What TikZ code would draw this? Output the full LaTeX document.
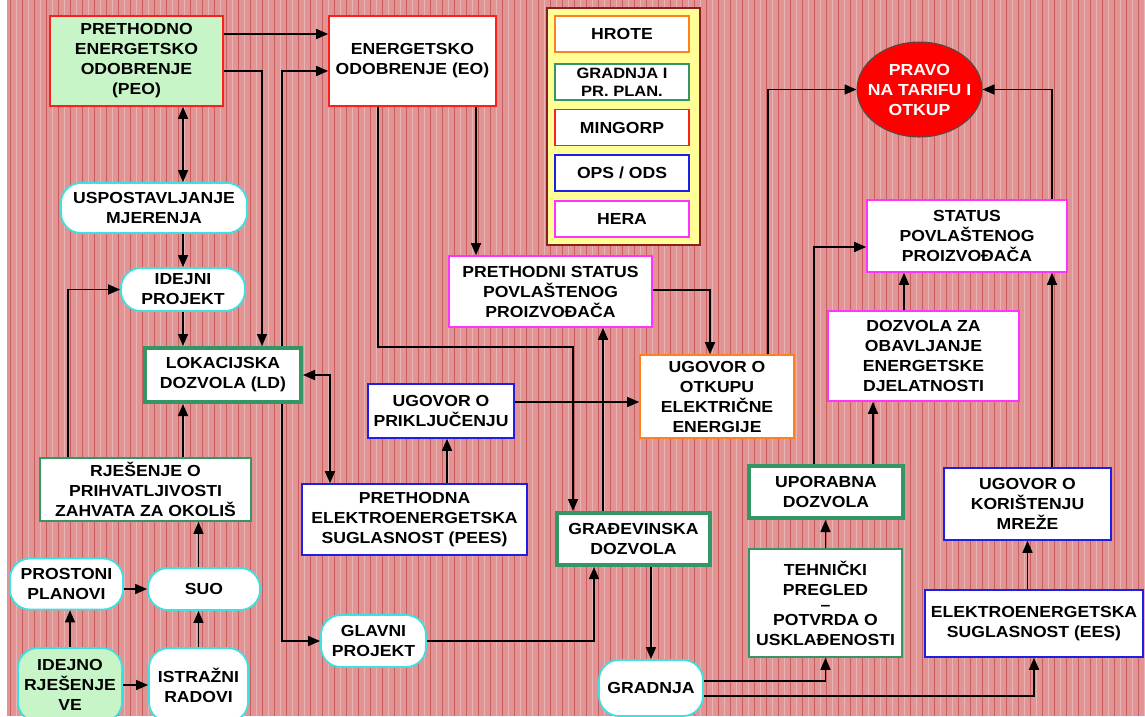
\documentclass[tikz,border=0pt]{standalone}
\usepackage{fontspec}
\setmainfont{Liberation Sans}[FakeStretch=1.1]
\usepackage{tikz}
\usetikzlibrary{shapes.geometric,arrows.meta}
\definecolor{bgpink}{RGB}{226,148,148}
\definecolor{stripedark}{RGB}{200,95,95}
\definecolor{edgered}{RGB}{255,30,30}
\definecolor{edgeblue}{RGB}{30,30,230}
\definecolor{edgemagenta}{RGB}{255,50,255}
\definecolor{edgeorange}{RGB}{255,128,32}
\definecolor{permitgreen}{RGB}{51,150,100}
\definecolor{stagecyan}{RGB}{60,225,225}
\definecolor{peofill}{RGB}{200,245,200}
\definecolor{legendyellow}{RGB}{255,255,150}
\definecolor{legendframe}{RGB}{140,30,30}
\newcommand{\diagfont}{\fontsize{16}{20}\selectfont\bfseries}
\newcommand{\keyfont}{\fontsize{15}{18}\selectfont\bfseries}
\tikzset
{
    boxsize/.style 2 args = {minimum width=#1pt, minimum height=#2pt},
    docbox/.style    = {rectangle, draw=#1, line width=1.6pt, fill=white, align=center, inner sep=1pt},
    permitbox/.style = {rectangle, draw=permitgreen, line width=4pt, fill=white, align=center, inner sep=1pt},
    stagenode/.style = {rectangle, rounded corners=20pt, draw=stagecyan, line width=1.8pt, fill=white, align=center, inner sep=1pt},
    keybox/.style    = {rectangle, draw=#1, line width=1.6pt, fill=white, align=center, minimum width=134pt, minimum height=36pt, inner sep=0pt}
}

\begin{document}
\begin{tikzpicture}[x=1pt, y=-1pt, ->, >={Triangle[length=12pt,width=10pt]}, line width=1.5pt, font=\diagfont]
    \useasboundingbox (0,0) rectangle (1145,716);
    \clip (0,0) rectangle (1145,716);
    \fill [white] (0,0) rectangle (1145,716);
    \fill [bgpink] (7,0) rectangle (1145,716);
    \foreach \x in {10,22,...,1142}
    {
        \draw [-, stripedark, line width=0.9pt] (\x,0) -- (\x,716);
        \draw [-, white, opacity=0.3, line width=0.9pt] (\x+6,0) -- (\x+6,716);
    }

    \draw [-, legendframe, fill=legendyellow, line width=2pt] (547,8) rectangle (700,245);
    \node [keybox=edgeorange] (hrote) at (622,34) {HROTE};
    \node [keybox=permitgreen, font=\keyfont] (gradplan) at (622,82) {GRADNJA I\\PR. PLAN.};
    \node [keybox=edgered] (mingorp) at (622,127.5) {MINGORP};
    \node [keybox=edgeblue] (opsods) at (622,173) {OPS / ODS};
    \node [keybox=edgemagenta] (hera) at (622,219) {HERA};

    \node [docbox=edgered, fill=peofill, boxsize={173}{90}] (peo) at (136.5,61) {PRETHODNO\\ENERGETSKO\\ODOBRENJE\\(PEO)};
    \node [docbox=edgered, boxsize={167}{90}] (eo) at (412.5,61) {ENERGETSKO\\ODOBRENJE (EO)};
    \node [ellipse, draw=black!70, line width=1pt, fill=red, text=white, align=center, minimum width=125pt, minimum height=95pt, inner xsep=-9pt, inner ysep=0pt] (pravo) at (919.5,89.5) {PRAVO\\NA TARIFU I\\OTKUP};
    \node [docbox=edgemagenta, boxsize={200}{72}] (status) at (967,236) {STATUS\\POVLAŠTENOG\\PROIZVOĐAČA};
    \node [docbox=edgemagenta, boxsize={191}{90}] (obavljanje) at (923.5,356) {DOZVOLA ZA\\OBAVLJANJE\\ENERGETSKE\\DJELATNOSTI};
    \node [docbox=edgeblue, boxsize={167}{72}] (koristenje) at (1027.5,504) {UGOVOR O\\KORIŠTENJU\\MREŽE};
    \node [docbox=permitgreen, boxsize={153}{108}] (tehnicki) at (825.5,603) {TEHNIČKI\\PREGLED\\[-5pt]–\\[-5pt]POTVRDA O\\USKLAĐENOSTI};
    \node [docbox=edgeblue, boxsize={218}{67}] (ees) at (1034,623.5) {ELEKTROENERGETSKA\\SUGLASNOST (EES)};
    \node [docbox=edgeblue, boxsize={225}{71}] (pees) at (414.5,519.5) {PRETHODNA\\ELEKTROENERGETSKA\\SUGLASNOST (PEES)};
    \node [docbox=edgeblue, boxsize={146}{54}] (prikljucenje) at (441,411) {UGOVOR O\\PRIKLJUČENJU};
    \node [docbox=edgeorange, boxsize={154}{83}] (otkup) at (717,396.5) {UGOVOR O\\OTKUPU\\ELEKTRIČNE\\ENERGIJE};
    \node [docbox=edgemagenta, boxsize={203}{71}] (prethstatus) at (550.5,291.5) {PRETHODNI STATUS\\POVLAŠTENOG\\PROIZVOĐAČA};
    \node [docbox=permitgreen, boxsize={211}{63}] (rjesenje) at (145.5,489.5) {RJEŠENJE O\\PRIHVATLJIVOSTI\\ZAHVATA ZA OKOLIŠ};

    \node [permitbox, boxsize={154}{52}] (uporabna) at (826,492) {UPORABNA\\DOZVOLA};
    \node [permitbox, boxsize={153}{52}] (gradjevinska) at (633.5,539) {GRAĐEVINSKA\\DOZVOLA};
    \node [permitbox, boxsize={156}{54}] (lokacijska) at (223,375) {LOKACIJSKA\\DOZVOLA (LD)};

    \node [stagenode, boxsize={186}{50}] (uspostava) at (154,208) {USPOSTAVLJANJE\\MJERENJA};
    \node [stagenode, boxsize={124}{43}] (idejni) at (183,289.5) {IDEJNI\\PROJEKT};
    \node [stagenode, boxsize={105}{52}] (glavni) at (373.5,641) {GLAVNI\\PROJEKT};
    \node [stagenode, boxsize={104}{56}] (gradnja) at (651,688) {GRADNJA};
    \node [stagenode, boxsize={113}{51}] (prostorni) at (66.5,584) {PROSTONI\\PLANOVI};
    \node [stagenode, boxsize={112}{42}] (suo) at (204,589) {SUO};
    \node [stagenode, fill=peofill, boxsize={104}{74}] (idejno) at (70,685) {IDEJNO\\RJEŠENJE\\VE};
    \node [stagenode, boxsize={99}{74}] (istrazni) at (198.5,685) {ISTRAŽNI\\RADOVI};

    \draw ([yshift=27pt]peo.east) -- ([yshift=27pt]peo.east -| eo.west);
    \draw ([yshift=-10pt]peo.east) -| ([xshift=39pt]lokacijska.north);
    \draw ([xshift=59pt]lokacijska.north) |- ([yshift=-10pt]eo.west);
    \draw ([xshift=59pt]lokacijska.south) |- (glavni.west);
    \draw [<->] (lokacijska.east) -| ([xshift=-84.5pt]pees.north);
    \draw [<->] (peo.south -| idejni.north) -- (uspostava.north -| idejni.north);
    \draw (uspostava.south -| idejni.north) -- (idejni.north);
    \draw (idejni.south) -- (idejni.south |- lokacijska.north);
    \draw (idejni.south |- rjesenje.north) -- (idejni.south |- lokacijska.south);
    \draw ([xshift=-77.5pt]rjesenje.north) |- (idejni.west);
    \draw (istrazni.north |- suo.north) -- (istrazni.north |- rjesenje.south);
    \draw (istrazni.north) -- (istrazni.north |- suo.south);
    \draw (idejno.north) -- (idejno.north |- prostorni.south);
    \draw (idejno.east) -- (istrazni.west);
    \draw ([yshift=-5pt]prostorni.east) -- ([yshift=-5pt]prostorni.east -| suo.west);

    \draw ([xshift=63.5pt]eo.south) -- ([xshift=63.5pt]eo.south |- prethstatus.north);
    \draw ([xshift=-34.5pt]eo.south) -- ++(0,240) -| ([xshift=-60.5pt]gradjevinska.north);
    \draw ([xshift=-30.5pt]gradjevinska.north) -- ([xshift=-30.5pt]gradjevinska.north |- prethstatus.south);
    \draw ([yshift=1.5pt]prethstatus.east) -| ([xshift=-7pt]otkup.north);
    \draw ([yshift=9pt]prikljucenje.east) -- ([yshift=9pt]prikljucenje.east -| otkup.west);
    \draw ([xshift=6pt]prikljucenje.south |- pees.north) -- ([xshift=6pt]prikljucenje.south);
    \draw (glavni.east) -| ([xshift=-39.5pt]gradjevinska.south);
    \draw (gradjevinska.south -| gradnja.north) -- (gradnja.north);

    \draw ([yshift=7pt]gradnja.east) -| (tehnicki.south);
    \draw ([yshift=-8pt]gradnja.east) -| (ees.south);
    \draw (tehnicki.north) -- (tehnicki.north |- uporabna.south);
    \draw ([xshift=47pt]uporabna.north) -- ([xshift=47pt]uporabna.north |- obavljanje.south);
    \draw ([xshift=-12pt]uporabna.north) |- ([yshift=-11pt]status.west);
    \draw ([xshift=-19.5pt]obavljanje.north) -- ([xshift=-19.5pt]obavljanje.north |- status.south);
    \draw (ees.north -| koristenje.south) -- (koristenje.south);
    \draw ([xshift=24.5pt]koristenje.north) -- ([xshift=24.5pt]koristenje.north |- status.south);
    \draw ([xshift=85pt]status.north) |- (pravo.east);
    \draw ([xshift=51pt]otkup.north) |- (pravo.west);
\end{tikzpicture}
\end{document}
